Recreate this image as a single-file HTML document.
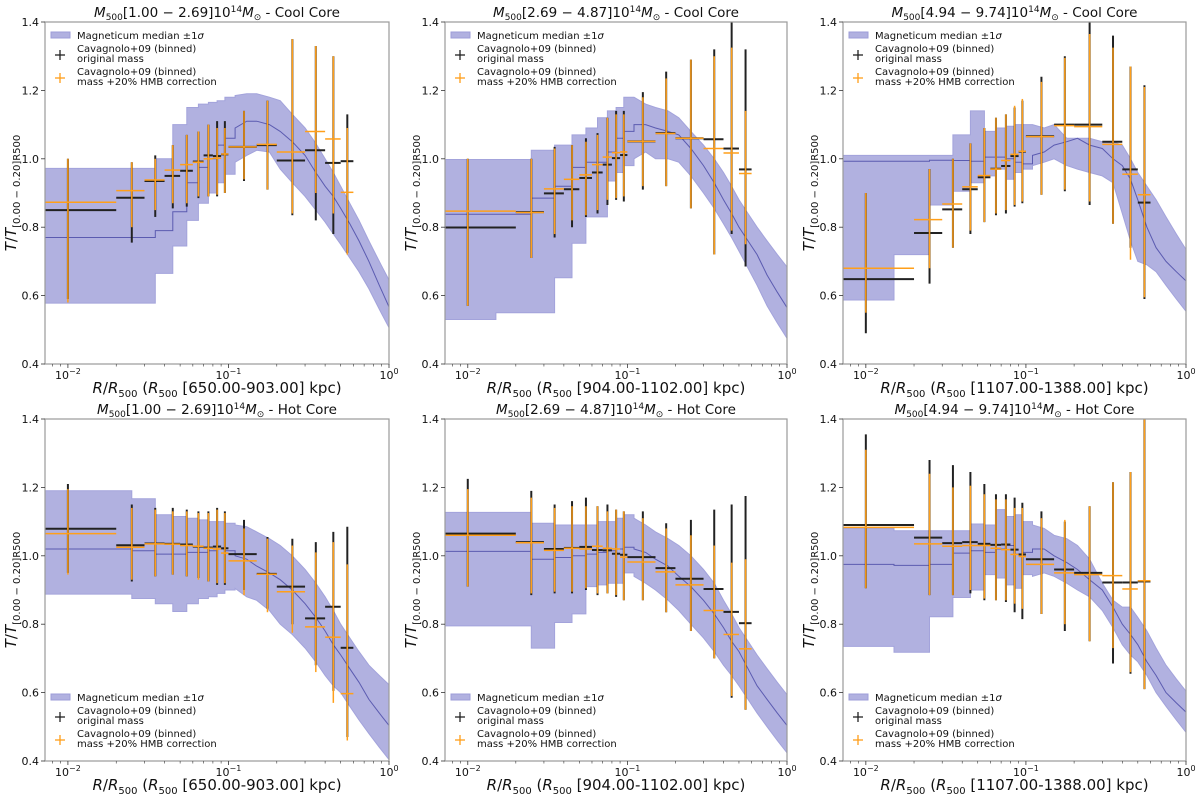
<!DOCTYPE html>
<html><head><meta charset="utf-8"><style>
html,body{margin:0;padding:0;background:#fff}
svg{display:block;font-family:"DejaVu Sans","Liberation Sans",sans-serif}
</style></head><body>
<svg id="fig" width="1200" height="800" viewBox="0 0 1200 800" xmlns="http://www.w3.org/2000/svg"></svg>
<script>
// shared radial bins
const binCenter=[0.01,0.025,0.035,0.045,0.055,0.065,0.075,0.085,0.095,0.125,0.175,0.25,0.35,0.45,0.55];
const binLo=[0.0072,0.02,0.03,0.04,0.05,0.06,0.07,0.08,0.09,0.1,0.15,0.2,0.3,0.4,0.5];
const binHi=[0.02,0.03,0.04,0.05,0.06,0.07,0.08,0.09,0.1,0.15,0.2,0.3,0.4,0.5,0.6];
const bandEdges=[0.0072,0.015,0.025,0.035,0.045,0.055,0.065,0.075,0.085,0.095,0.11,0.13,0.15,0.18,0.21,0.25,0.3,0.35,0.4,0.45,0.5,0.57,0.65,0.75,0.87,1.0];
const yTicks=[0.4,0.6,0.8,1.0,1.2,1.4];
const yTickLabels=["0.4","0.6","0.8","1.0","1.2","1.4"];
const titles=["1.00 \u2212 2.69","2.69 \u2212 4.87","4.94 \u2212 9.74"];
const kpcLabels=["650.00-903.00","904.00-1102.00","1107.00-1388.00"];

// panel 1: CC low
const p1BandLo=[0.578,0.578,0.578,0.665,0.745,0.82,0.87,0.9,0.93,0.955,0.99,1.01,1.025,1.02,0.97,0.93,0.89,0.85,0.815,0.78,0.75,0.71,0.67,0.62,0.56];
const p1BandMed=[0.77,0.77,0.77,0.79,0.845,0.93,0.975,1.0,1.04,1.06,1.09,1.11,1.11,1.1,1.08,1.05,1.01,0.96,0.92,0.89,0.855,0.81,0.76,0.7,0.63];
const p1BandHi=[0.972,0.972,0.972,1.0,1.1,1.15,1.16,1.165,1.17,1.18,1.185,1.19,1.19,1.18,1.17,1.13,1.09,1.045,1.0,0.96,0.92,0.87,0.82,0.76,0.70];
const p1Black=[0.85,0.886,0.935,0.95,0.965,0.992,1.01,1.008,1.013,1.035,1.04,0.995,1.025,0.988,0.993];
const p1BlackLo=[0.59,0.755,0.83,0.855,0.86,0.885,0.89,0.89,0.9,0.935,0.91,0.835,0.82,0.78,0.725];
const p1BlackHi=[1.0,0.99,1.01,1.04,1.07,1.08,1.1,1.11,1.11,1.14,1.17,1.35,1.33,1.30,1.13];
const p1Orange=[0.873,0.907,0.938,0.967,0.983,0.99,1.0,1.002,1.014,1.035,1.042,1.02,1.08,1.058,0.902];
const p1OrangeLo=[0.58,0.8,0.85,0.87,0.87,0.89,0.89,0.895,0.9,0.94,0.91,0.84,0.9,0.84,0.72];
const p1OrangeHi=[1.0,0.99,1.0,1.04,1.07,1.08,1.1,1.09,1.09,1.14,1.17,1.35,1.33,1.3,1.09];
// panel 2: CC mid
const p2BandLo=[0.53,0.55,0.55,0.652,0.753,0.83,0.83,0.935,0.96,0.98,1.0,1.02,1.0,1.0,0.99,0.95,0.9,0.855,0.81,0.77,0.73,0.68,0.63,0.57,0.52];
const p2BandMed=[0.838,0.838,0.885,0.92,0.975,0.99,0.99,1.02,1.06,1.08,1.1,1.1,1.09,1.08,1.07,1.03,0.98,0.93,0.88,0.84,0.8,0.76,0.72,0.66,0.61];
const p2BandHi=[0.998,0.998,1.025,1.04,1.07,1.09,1.12,1.14,1.15,1.18,1.18,1.16,1.15,1.14,1.12,1.08,1.04,1.0,0.96,0.92,0.88,0.84,0.8,0.76,0.72];
const p2Black=[0.799,0.844,0.899,0.911,0.944,0.96,0.983,1.002,1.011,1.051,1.075,1.06,1.057,1.03,0.969];
const p2BlackLo=[0.57,0.71,0.77,0.8,0.83,0.84,0.865,0.88,0.875,0.91,0.92,0.855,0.72,0.78,0.685];
const p2BlackHi=[1.0,1.0,1.035,1.04,1.06,1.075,1.12,1.14,1.14,1.195,1.255,1.29,1.32,1.4,1.32];
const p2Orange=[0.847,0.843,0.912,0.94,0.953,0.983,1.005,1.018,1.02,1.051,1.074,1.06,1.03,1.017,0.957];
const p2OrangeLo=[0.57,0.71,0.78,0.82,0.835,0.85,0.88,0.885,0.89,0.92,0.92,0.855,0.72,0.79,0.75];
const p2OrangeHi=[1.0,1.0,1.03,1.04,1.05,1.07,1.12,1.13,1.13,1.18,1.235,1.29,1.3,1.325,1.14];
// panel 3: CC high
const p3BandLo=[0.587,0.72,0.865,0.905,0.93,0.95,0.97,0.94,0.96,0.97,0.98,0.99,1.0,0.98,0.97,0.96,0.95,0.93,0.84,0.76,0.7,0.69,0.67,0.63,0.59];
const p3BandMed=[0.993,0.993,0.996,0.995,0.993,1.005,1.005,1.0,0.99,0.985,1.01,1.02,1.04,1.05,1.06,1.04,1.03,1.0,0.98,0.94,0.88,0.8,0.74,0.7,0.67];
const p3BandHi=[1.01,1.01,1.01,1.07,1.14,1.08,1.09,1.095,1.1,1.1,1.1,1.09,1.1,1.06,1.06,1.06,1.05,1.05,1.04,1.0,0.96,0.92,0.88,0.83,0.78];
const p3Black=[0.648,0.783,0.852,0.911,0.946,0.971,0.979,1.008,1.021,1.066,1.1,1.1,1.05,0.969,0.872];
const p3BlackLo=[0.49,0.635,0.74,0.78,0.815,0.835,0.84,0.86,0.87,0.895,0.905,0.865,0.81,0.74,0.59];
const p3BlackHi=[0.9,0.97,1.0,1.045,1.09,1.12,1.13,1.15,1.17,1.24,1.3,1.4,1.36,1.27,1.215];
const p3Orange=[0.68,0.822,0.868,0.918,0.951,0.97,0.995,1.013,1.022,1.065,1.097,1.094,1.042,0.955,0.895];
const p3OrangeLo=[0.55,0.68,0.74,0.79,0.815,0.84,0.85,0.865,0.875,0.895,0.91,0.875,0.81,0.705,0.595];
const p3OrangeHi=[0.9,0.97,1.0,1.045,1.09,1.12,1.13,1.155,1.175,1.225,1.295,1.365,1.325,1.27,1.21];
// panel 4: HC low
const p4BandLo=[0.888,0.888,0.875,0.86,0.837,0.86,0.875,0.88,0.89,0.9,0.905,0.88,0.87,0.84,0.8,0.77,0.73,0.69,0.65,0.62,0.6,0.56,0.52,0.48,0.44];
const p4BandMed=[1.02,1.02,1.015,1.005,1.005,1.01,1.01,1.015,1.02,1.015,1.0,0.99,0.97,0.95,0.93,0.9,0.86,0.82,0.78,0.74,0.71,0.67,0.63,0.58,0.54];
const p4BandHi=[1.19,1.19,1.167,1.12,1.115,1.11,1.105,1.1,1.1,1.095,1.09,1.085,1.07,1.05,1.03,1.0,0.96,0.92,0.88,0.84,0.8,0.76,0.72,0.68,0.65];
const p4Black=[1.079,1.031,1.036,1.035,1.033,1.027,1.024,1.027,1.022,1.005,0.947,0.91,0.817,0.851,0.731];
const p4BlackLo=[0.95,0.925,0.94,0.945,0.94,0.935,0.925,0.915,0.915,0.9,0.845,0.8,0.68,0.605,0.47];
const p4BlackHi=[1.21,1.15,1.14,1.14,1.135,1.13,1.13,1.14,1.13,1.105,1.055,1.05,1.04,1.07,1.085];
const p4Orange=[1.065,1.025,1.035,1.034,1.03,1.028,1.022,1.02,1.008,0.985,0.946,0.895,0.792,0.762,0.597];
const p4OrangeLo=[0.945,0.93,0.94,0.945,0.94,0.93,0.925,0.92,0.92,0.885,0.835,0.775,0.66,0.57,0.46];
const p4OrangeHi=[1.195,1.14,1.135,1.13,1.13,1.125,1.125,1.135,1.125,1.08,1.05,1.03,1.01,1.04,0.975];
// panel 5: HC mid
const p5BandLo=[0.795,0.795,0.73,0.805,0.83,0.91,0.915,0.92,0.92,0.95,0.94,0.92,0.9,0.87,0.84,0.8,0.76,0.72,0.68,0.65,0.62,0.58,0.54,0.5,0.46];
const p5BandMed=[1.013,1.013,0.99,0.995,1.0,1.005,1.01,1.015,1.02,1.025,1.02,1.01,0.99,0.97,0.94,0.91,0.87,0.83,0.79,0.75,0.72,0.67,0.62,0.58,0.54];
const p5BandHi=[1.127,1.127,1.095,1.09,1.09,1.09,1.1,1.1,1.11,1.12,1.11,1.09,1.07,1.05,1.03,1.0,0.96,0.92,0.87,0.83,0.79,0.75,0.71,0.67,0.63];
const p5Black=[1.065,1.04,1.02,1.023,1.026,1.017,1.016,1.006,1.003,0.996,0.964,0.933,0.903,0.836,0.803];
const p5BlackLo=[0.91,0.885,0.89,0.89,0.9,0.885,0.89,0.88,0.87,0.87,0.835,0.78,0.7,0.585,0.55];
const p5BlackHi=[1.225,1.19,1.15,1.16,1.17,1.145,1.15,1.135,1.13,1.13,1.095,1.105,1.135,1.15,1.175];
const p5Orange=[1.06,1.038,1.016,1.022,1.02,1.028,1.022,1.02,0.996,0.982,0.953,0.915,0.84,0.77,0.728];
const p5OrangeLo=[0.91,0.89,0.895,0.895,0.905,0.89,0.89,0.885,0.87,0.87,0.835,0.78,0.7,0.59,0.55];
const p5OrangeHi=[1.195,1.17,1.14,1.145,1.145,1.145,1.13,1.135,1.13,1.11,1.08,1.06,1.03,0.98,0.99];
// panel 6: HC high
const p6BandLo=[0.735,0.718,0.822,0.878,0.9,0.945,0.935,0.915,0.905,0.945,0.94,0.95,0.94,0.92,0.9,0.88,0.84,0.79,0.74,0.71,0.69,0.65,0.6,0.56,0.52];
const p6BandMed=[0.975,0.972,0.975,1.008,1.015,1.01,1.02,1.03,1.005,1.01,1.02,1.02,1.0,0.98,0.96,0.93,0.9,0.85,0.8,0.77,0.74,0.69,0.65,0.6,0.57];
const p6BandHi=[1.08,1.073,1.073,1.073,1.093,1.09,1.135,1.115,1.12,1.1,1.09,1.08,1.06,1.05,1.03,0.99,0.92,0.87,0.85,0.85,0.82,0.78,0.73,0.68,0.64];
const p6Black=[1.09,1.053,1.037,1.04,1.035,1.032,1.033,1.018,1.004,0.99,0.96,0.95,0.922,0.922,0.925];
const p6BlackLo=[0.905,0.885,0.885,0.89,0.87,0.87,0.865,0.835,0.815,0.83,0.78,0.75,0.685,0.655,0.61];
const p6BlackHi=[1.355,1.28,1.265,1.245,1.21,1.18,1.18,1.17,1.155,1.13,1.1,1.145,1.215,1.245,1.4];
const p6Orange=[1.083,1.035,1.028,1.03,1.03,1.022,1.018,1.004,0.998,0.975,0.95,0.945,0.942,0.903,0.927];
const p6OrangeLo=[0.905,0.885,0.885,0.9,0.875,0.87,0.87,0.86,0.845,0.83,0.8,0.75,0.73,0.66,0.61];
const p6OrangeHi=[1.31,1.24,1.2,1.205,1.18,1.165,1.165,1.14,1.14,1.11,1.105,1.145,1.215,1.245,1.4];

const NS="http://www.w3.org/2000/svg";
const fig=document.getElementById('fig');
function mk(tag,attrs,parent){const e=document.createElementNS(NS,tag);for(const k in attrs)e.setAttribute(k,attrs[k]);(parent||fig).appendChild(e);return e;}

const cols=[{L:45,R:389},{L:445,R:787},{L:843,R:1186}];
const rows=[{T:22,B:364,core:"Cool Core",legTop:true},{T:419,B:761,core:"Hot Core",legTop:false}];
const panels=[
 [p1BandLo,p1BandMed,p1BandHi,p1Black,p1BlackLo,p1BlackHi,p1Orange,p1OrangeLo,p1OrangeHi],
 [p2BandLo,p2BandMed,p2BandHi,p2Black,p2BlackLo,p2BlackHi,p2Orange,p2OrangeLo,p2OrangeHi],
 [p3BandLo,p3BandMed,p3BandHi,p3Black,p3BlackLo,p3BlackHi,p3Orange,p3OrangeLo,p3OrangeHi],
 [p4BandLo,p4BandMed,p4BandHi,p4Black,p4BlackLo,p4BlackHi,p4Orange,p4OrangeLo,p4OrangeHi],
 [p5BandLo,p5BandMed,p5BandHi,p5Black,p5BlackLo,p5BlackHi,p5Orange,p5OrangeLo,p5OrangeHi],
 [p6BandLo,p6BandMed,p6BandHi,p6Black,p6BlackLo,p6BlackHi,p6Orange,p6OrangeLo,p6OrangeHi]];
const LOGMIN=Math.log10(0.0072);
const SMOOTH_FROM=10; // intervals from here on drawn as a continuous curve

// build point list for a band edge: steps for inner bins, linear for outer
function edgePts(vals,xs,ys){
 const pts=[];
 const n=vals.length;
 for(let i=0;i<n;i++){
  const x0=xs(bandEdges[i]),x1=xs(bandEdges[i+1]);
  if(i<SMOOTH_FROM){pts.push([x0,ys(vals[i])],[x1,ys(vals[i])]);}
  else{
   pts.push([x0,ys(vals[i])]);
   if(i===n-1){const ext=vals[i]+(vals[i]-vals[i-1])*0.9;pts.push([x1,ys(ext)]);}
  }
 }
 return pts;
}

panels.forEach((d,pi)=>{
 const c=cols[pi%3], r=rows[Math.floor(pi/3)];
 const xs=v=>c.L+(Math.log10(v)-LOGMIN)/(0-LOGMIN)*(c.R-c.L);
 const ys=v=>r.B-(v-0.4)/1.0*(r.B-r.T);
 const g=mk('g',{});
 
 
 const clipId='clip'+pi;
 const cp=mk('clipPath',{id:clipId},g);mk('rect',{x:c.L,y:r.T,width:c.R-c.L,height:r.B-r.T},cp);
 const plot=mk('g',{'clip-path':'url(#'+clipId+')'},g);
 const [bl,bm,bh,kv,kl,kh,ov,ol,oh]=d;
 const up=edgePts(bh,xs,ys), dn=edgePts(bl,xs,ys).reverse(), md=edgePts(bm,xs,ys);
 const toD=p=>p.map((q,i)=>(i?'L':'M')+q[0].toFixed(1)+','+q[1].toFixed(1)).join('');
 const band=mk('path',{d:toD(up.concat(dn))+'Z',fill:'#b1b1e0',stroke:'#a3a3db','stroke-width':1},plot);
 
 
 const med=mk('path',{d:toD(md),fill:'none',stroke:'#5b5bb0','stroke-width':1},plot);
 
 
 // error bars
 [[kv,kl,kh,'#222',2,'black'],[ov,ol,oh,'#ff9f1a',1.5,'orange']].forEach(([v,lo,hi,col,w,nm])=>{
  const eg=mk('g',{stroke:col,'stroke-width':w},plot);
  
  
  for(let i=0;i<v.length;i++){
   const xc=xs(binCenter[i]);
   const l1=mk('line',{x1:xc,x2:xc,y1:ys(lo[i]),y2:ys(hi[i])},eg);
   
   
   const l2=mk('line',{x1:xs(binLo[i]),x2:xs(binHi[i]),y1:ys(v[i]),y2:ys(v[i])},eg);
   
   
  }
 });
 const fr=mk('rect',{x:c.L,y:r.T,width:c.R-c.L,height:r.B-r.T,fill:'none',stroke:'#9a9a9a','stroke-width':1.2},g);
 
 
 yTicks.forEach((t,i)=>{
  const y=ys(t);
  mk('line',{x1:c.L-4,x2:c.L,y1:y,y2:y,stroke:'#333','stroke-width':0.8},g);
  const tx=mk('text',{x:c.L-6,y:y+4,'text-anchor':'end','font-size':11,fill:'#111'},g);
  tx.textContent=yTickLabels[i];
  
  
 });
 [-2,-1,0].forEach(e=>{
  const x=xs(Math.pow(10,e));
  mk('line',{x1:x,x2:x,y1:r.B,y2:r.B+4,stroke:'#333','stroke-width':0.8},g);
  const tx=mk('text',{x:x,y:r.B+15,'text-anchor':'middle','font-size':11,fill:'#111'},g);
  tx.innerHTML='10<tspan dy="-5" font-size="8">'+(e<0?'\u2212'+(-e):'0')+'</tspan>';
  
  
 });
 [-3,-2,-1].forEach(e=>{for(let m=2;m<=9;m++){const v=m*Math.pow(10,e);if(v<0.0072)continue;const x=xs(v);mk('line',{x1:x,x2:x,y1:r.B,y2:r.B+2.5,stroke:'#333','stroke-width':0.6},g);}});
 const cx=(c.L+c.R)/2;
 const xl=mk('text',{x:cx,y:r.B+29,'text-anchor':'middle','font-size':15,fill:'#111'},g);
 xl.innerHTML='<tspan font-style="italic">R</tspan>/<tspan font-style="italic">R</tspan><tspan font-size="10" dy="4">500</tspan><tspan dy="-4"> (</tspan><tspan font-style="italic">R</tspan><tspan font-size="10" dy="4">500</tspan><tspan dy="-4"> ['+kpcLabels[pi%3]+'] kpc)</tspan>';
 
 
 const yc=(r.T+r.B)/2;
 const yl=mk('text',{x:0,y:0,'text-anchor':'middle','font-size':15,fill:'#111',transform:'translate('+(c.L-29)+','+yc+') rotate(-90)'},g);
 yl.innerHTML='<tspan font-style="italic">T</tspan>/<tspan font-style="italic">T</tspan><tspan font-size="10" dy="4">[0.00 \u2212 0.20]R500</tspan>';
 
 
 const tt=mk('text',{x:cx,y:r.T-5,'text-anchor':'middle','font-size':13.5,fill:'#111'},g);
 tt.innerHTML='<tspan font-style="italic">M</tspan><tspan font-size="9" dy="3">500</tspan><tspan dy="-3">['+titles[pi%3]+']10</tspan><tspan font-size="9" dy="-5">14</tspan><tspan dy="5" font-style="italic">M</tspan><tspan font-size="9" dy="3">\u2299</tspan><tspan dy="-3"> - '+r.core+'</tspan>';
 
 
 const ly=r.legTop?r.T+10:r.B-67;
 const lg=mk('g',{'font-size':10,fill:'#111'},g);
 
 
 mk('rect',{x:c.L+6,y:ly,width:19,height:6,fill:'#b1b1e0',stroke:'#9d9dd8'},lg);
 const t1=mk('text',{x:c.L+32,y:ly+7},lg);t1.innerHTML='Magneticum median \u00b11<tspan font-style="italic">\u03c3</tspan>';
 const py=[ly+20,ly+43];
 [['#222','original mass'],['#ff9f1a','mass +20% HMB correction']].forEach(([col,txt],k)=>{
  const y=py[k];
  mk('line',{x1:c.L+10,x2:c.L+20,y1:y+3,y2:y+3,stroke:col,'stroke-width':1.3},lg);
  mk('line',{x1:c.L+15,x2:c.L+15,y1:y-2,y2:y+8,stroke:col,'stroke-width':1.3},lg);
  const a=mk('text',{x:c.L+32,y:y},lg);a.textContent='Cavagnolo+09 (binned)';
  const b=mk('text',{x:c.L+32,y:y+10},lg);b.textContent=txt;
 });
});
</script>
</body></html>
